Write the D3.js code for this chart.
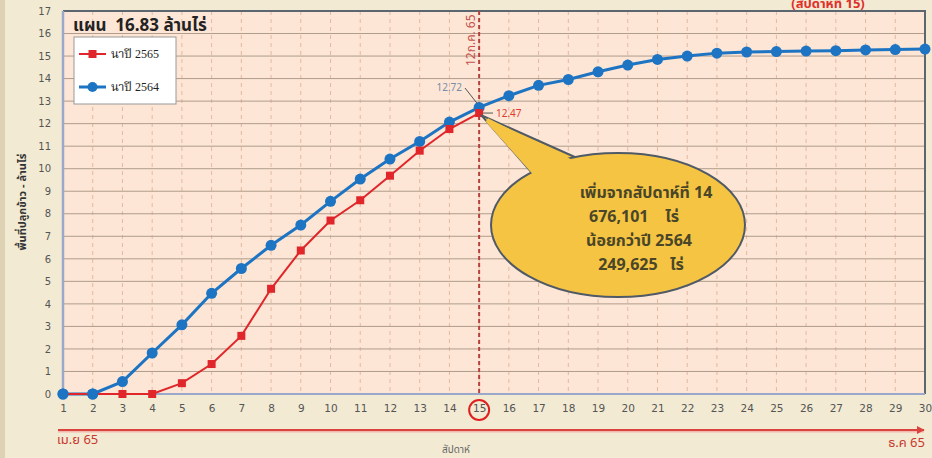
<!DOCTYPE html>
<html>
<head>
<meta charset="utf-8">
<script src="https://cdn.jsdelivr.net/npm/d3@7"></script>
<style>
  body { margin: 0; background: #f2ead3; }
  svg { display: block; font-family: Tahoma, "Noto Sans Thai", "Noto Sans", sans-serif; }
</style>
</head>
<body>
<svg id="chart" width="932" height="458"></svg>
<script>
// weeks 1..30
const weeks = d3.range(1, 31);
const yTicks = d3.range(0, 18);

// นาปี 2564 (full season)
const rice2564 = [0, 0, 0.55, 1.82, 3.07, 4.47, 5.57, 6.6, 7.5, 8.55,
  9.54, 10.43, 11.21, 12.07, 12.72, 13.24, 13.7, 13.96, 14.3, 14.6,
  14.85, 15.0, 15.13, 15.18, 15.2, 15.22, 15.24, 15.27, 15.29, 15.31];
// นาปี 2565 (up to week 15)
const rice2565 = [0, 0, 0, 0, 0.48, 1.33, 2.58, 4.67, 6.37, 7.7,
  8.6, 9.69, 10.8, 11.76, 12.47];

const titleText = "แผน  16.83 ล้านไร่";
const legendLabels = ["นาปี 2565", "นาปี 2564"];
const calloutLines = ["เพิ่มจากสัปดาห์ที่ 14", "676,101    ไร่", "น้อยกว่าปี 2564", "249,625   ไร่"];
const markWeek = 15;

const svg = d3.select("#chart");
const pL = 63, pR = 925, pT = 11, pB = 394;

const x = d3.scaleLinear().domain([1, 30]).range([pL, pR]);
const y = d3.scaleLinear().domain([0, 17]).range([pB, pT]);

// left darker strip of the slide
svg.append("rect").attr("x", 0).attr("y", 0).attr("width", 5).attr("height", 458).attr("fill", "#ddd2b4");

// top-right heading, partly hidden above the window like the source slide
svg.append("text").attr("x", 828).attr("y", 8).attr("text-anchor", "middle")
  .attr("font-size", 13).attr("font-weight", "bold").attr("fill", "#e0302a")
  .text("(สัปดาห์ที่ 15)");

// plot background
svg.append("rect").attr("x", pL).attr("y", pT)
  .attr("width", pR - pL).attr("height", pB - pT).attr("fill", "#fde6d6");

// vertical dashed grid
svg.append("g").selectAll("line").data(weeks.slice(1)).join("line")
  .attr("x1", d => x(d)).attr("x2", d => x(d))
  .attr("y1", pT).attr("y2", pB)
  .attr("stroke", "#e2b9a0").attr("stroke-dasharray", "4,4").attr("stroke-width", 1);

// horizontal grid
svg.append("g").selectAll("line").data(yTicks.slice(1, -1)).join("line")
  .attr("x1", pL).attr("x2", pR)
  .attr("y1", d => y(d)).attr("y2", d => y(d))
  .attr("stroke", "#b09c8a").attr("stroke-width", 1);

// frame
svg.append("line").attr("x1", pL).attr("x2", pR + 1).attr("y1", pT).attr("y2", pT)
  .attr("stroke", "#5c6670").attr("stroke-width", 2);
svg.append("line").attr("x1", pR).attr("x2", pR).attr("y1", pT).attr("y2", pB)
  .attr("stroke", "#5c6670").attr("stroke-width", 2);
svg.append("line").attr("x1", pL).attr("x2", pL).attr("y1", pT).attr("y2", pB)
  .attr("stroke", "#9aa8cc").attr("stroke-width", 2.5);
svg.append("line").attr("x1", pL).attr("x2", pR).attr("y1", pB).attr("y2", pB)
  .attr("stroke", "#9aa8cc").attr("stroke-width", 2);

// y tick labels
const yAxis = d3.axisLeft(y).tickValues(yTicks).tickSize(0).tickPadding(12);
svg.append("g").attr("transform", `translate(${pL},0)`).call(yAxis)
  .call(g => g.select(".domain").remove())
  .selectAll("text").attr("font-size", 10).attr("fill", "#555").attr("font-family", "Tahoma, 'DejaVu Sans', sans-serif");

// x tick labels
const xAxis = d3.axisBottom(x).tickValues(weeks).tickSize(0).tickPadding(11).tickFormat(d3.format("d"));
svg.append("g").attr("transform", `translate(0,${pB})`).call(xAxis)
  .call(g => g.select(".domain").remove())
  .selectAll("text").attr("font-size", 10.5).attr("fill", "#555").attr("font-family", "Tahoma, 'DejaVu Sans', sans-serif");

// red circle around current week
svg.append("circle").attr("cx", x(markWeek)).attr("cy", 410).attr("r", 10)
  .attr("fill", "none").attr("stroke", "#e02020").attr("stroke-width", 2);

// vertical marker line for current week
svg.append("line").attr("x1", x(markWeek)).attr("x2", x(markWeek)).attr("y1", pT).attr("y2", pB)
  .attr("stroke", "#b3423e").attr("stroke-width", 2).attr("stroke-dasharray", "4,3");
svg.append("text").attr("transform", `translate(${x(markWeek) - 4},66) rotate(-90)`)
  .attr("font-size", 12).attr("fill", "#c4504a").text("12ก.ค. 65");

// series
const line = d3.line().x((d, i) => x(weeks[i])).y(d => y(d));

svg.append("path").datum(rice2564).attr("d", line)
  .attr("fill", "none").attr("stroke", "#1d74c2").attr("stroke-width", 3);
svg.append("g").selectAll("circle").data(rice2564).join("circle")
  .attr("cx", (d, i) => x(weeks[i])).attr("cy", d => y(d)).attr("r", 5.5)
  .attr("fill", "#1d74c2");

svg.append("path").datum(rice2565).attr("d", line)
  .attr("fill", "none").attr("stroke", "#e0262a").attr("stroke-width", 2);
svg.append("g").selectAll("rect").data(rice2565).join("rect")
  .attr("x", (d, i) => x(weeks[i]) - 4).attr("y", d => y(d) - 4)
  .attr("width", 8).attr("height", 8).attr("fill", "#e0262a");

// redraw the first two blue points on top (they cover the red ones)
svg.append("g").selectAll("circle").data(rice2564.slice(0, 2)).join("circle")
  .attr("cx", (d, i) => x(weeks[i])).attr("cy", d => y(d)).attr("r", 5.5)
  .attr("fill", "#1d74c2");

// value labels at current week
const v64 = rice2564[markWeek - 1], v65 = rice2565[markWeek - 1];
svg.append("line").attr("x1", 465).attr("x2", x(markWeek) - 2).attr("y1", 88).attr("y2", y(v64) - 4)
  .attr("stroke", "#555").attr("stroke-width", 1);
svg.append("text").attr("x", 462).attr("y", 91).attr("text-anchor", "end")
  .attr("font-size", 10).attr("fill", "#7a8ba8").text(v64.toFixed(2));
svg.append("line").attr("x1", x(markWeek) + 4).attr("x2", 493).attr("y1", y(v65)).attr("y2", y(v65))
  .attr("stroke", "#555").attr("stroke-width", 1);
svg.append("text").attr("x", 496).attr("y", y(v65) + 3.5)
  .attr("font-size", 10).attr("fill", "#e03a30").text(v65.toFixed(2));

// callout bubble
const cx = 618, cy = 225, rx = 127, ry = 72;
const tail = [[x(markWeek) + 2, y(v65) + 2], [533, 174], [577, 158]];
svg.append("path").attr("d", d3.line()(tail) + "Z")
  .attr("fill", "#f5c443").attr("stroke", "#4f5a66").attr("stroke-width", 2);
svg.append("ellipse").attr("cx", cx).attr("cy", cy).attr("rx", rx).attr("ry", ry)
  .attr("fill", "#f5c443").attr("stroke", "#4f5a66").attr("stroke-width", 2);
svg.append("path").attr("d", d3.line()([[x(markWeek) + 8, y(v65) + 7], [538, 177], [572, 162]]) + "Z")
  .attr("fill", "#f5c443").attr("stroke", "#f5c443").attr("stroke-width", 4);

const lineX = [646, 634, 639, 641];
svg.append("g").selectAll("text").data(calloutLines).join("text")
  .attr("x", (d, i) => lineX[i]).attr("y", (d, i) => 198 + i * 24)
  .attr("text-anchor", "middle").attr("font-size", 16).attr("font-weight", "bold")
  .attr("fill", "#4a4628").style("white-space", "pre")
  .text(d => d);

// title
svg.append("text").attr("x", 73).attr("y", 31).attr("font-size", 17).attr("font-weight", "bold")
  .attr("fill", "#222").style("white-space", "pre").text(titleText);

// legend
const lg = svg.append("g").attr("transform", "translate(74,37)");
lg.append("rect").attr("width", 102).attr("height", 67).attr("fill", "#fff").attr("stroke", "#999");
const legendItems = [
  { label: legendLabels[0], color: "#e0262a", shape: "square", yy: 17 },
  { label: legendLabels[1], color: "#1d74c2", shape: "circle", yy: 50 }
];
legendItems.forEach(it => {
  lg.append("line").attr("x1", 5).attr("x2", 32).attr("y1", it.yy).attr("y2", it.yy)
    .attr("stroke", it.color).attr("stroke-width", it.shape === "circle" ? 3 : 2);
  if (it.shape === "square") {
    lg.append("rect").attr("x", 14.5).attr("y", it.yy - 4).attr("width", 8).attr("height", 8).attr("fill", it.color);
  } else {
    lg.append("circle").attr("cx", 18.5).attr("cy", it.yy).attr("r", 5).attr("fill", it.color);
  }
  lg.append("text").attr("x", 37).attr("y", it.yy + 4).attr("font-size", 12)
    .attr("font-family", "'Liberation Serif', 'Noto Serif Thai', serif").attr("fill", "#222").text(it.label);
});

// y-axis title
svg.append("text").attr("transform", "translate(26,202) rotate(-90)").attr("text-anchor", "middle")
  .attr("font-size", 11).attr("font-weight", "bold").attr("fill", "#333")
  .text("พื้นที่ปลูกข้าว - ล้านไร่");

// timeline arrow at the bottom
svg.append("defs").append("marker").attr("id", "arr").attr("viewBox", "0 0 10 10")
  .attr("refX", 9).attr("refY", 5).attr("markerWidth", 4).attr("markerHeight", 4).attr("orient", "auto")
  .append("path").attr("d", "M0,0L10,5L0,10Z").attr("fill", "#d9443f");
svg.append("line").attr("x1", 58).attr("x2", 924).attr("y1", 431).attr("y2", 431)
  .attr("stroke", "#f2b8b0").attr("stroke-width", 3);
svg.append("line").attr("x1", 58).attr("x2", 924).attr("y1", 430).attr("y2", 430)
  .attr("stroke", "#d9443f").attr("stroke-width", 2).attr("marker-end", "url(#arr)");
svg.append("text").attr("x", 57).attr("y", 444).attr("font-size", 13).attr("fill", "#c8372f").text("เม.ย 65");
svg.append("text").attr("x", 925).attr("y", 447).attr("text-anchor", "end").attr("font-size", 13).attr("fill", "#c8372f").text("ธ.ค 65");
svg.append("text").attr("x", 456).attr("y", 453).attr("text-anchor", "middle").attr("font-size", 10).attr("fill", "#666").text("สัปดาห์");
</script>
</body>
</html>
